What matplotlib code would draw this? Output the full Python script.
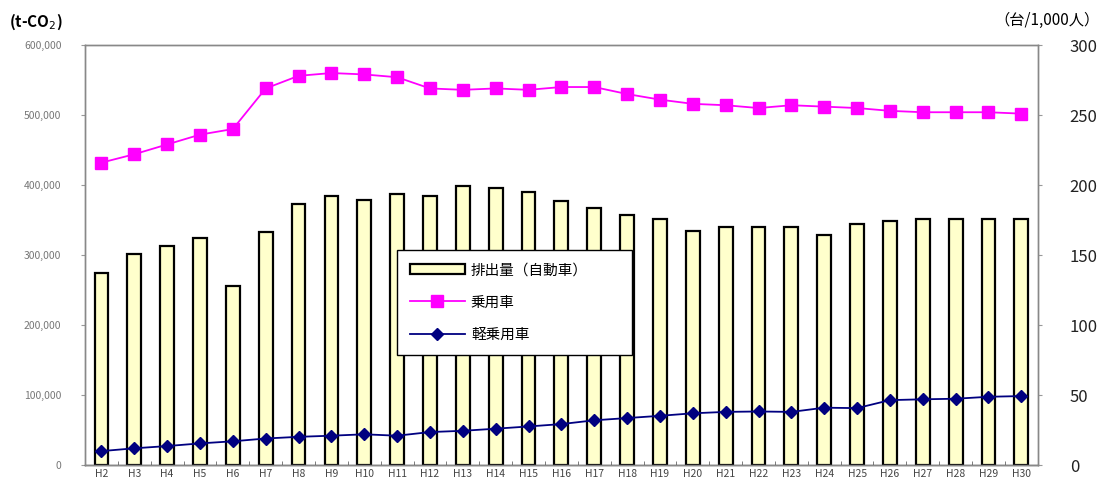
import numpy as np
import matplotlib
matplotlib.use('Agg')
import matplotlib.pyplot as plt
from matplotlib.ticker import FuncFormatter, MultipleLocator

plt.rcParams['font.family'] = ['Noto Sans CJK JP', 'DejaVu Sans']

# 年度（平成）
nendo = ['H2', 'H3', 'H4', 'H5', 'H6', 'H7', 'H8', 'H9', 'H10', 'H11', 'H12', 'H13', 'H14', 'H15',
         'H16', 'H17', 'H18', 'H19', 'H20', 'H21', 'H22', 'H23', 'H24', 'H25', 'H26', 'H27', 'H28',
         'H29', 'H30']

# 排出量（自動車） t-CO2
haishutsu = [275000, 301000, 313000, 325000, 256000, 333000, 373000, 384000, 379000, 387000,
             384000, 399000, 396000, 390000, 377000, 367000, 357000, 351000, 334000, 340000,
             340000, 340000, 329000, 345000, 349000, 351000, 351000, 351000, 351000]

# 保有台数 台/1,000人
jouyousha = [216, 222, 229, 236, 240, 269, 278, 280, 279, 277, 269, 268, 269, 268, 270, 270,
             265, 261, 258, 257, 255, 257, 256, 255, 253, 252, 252, 252, 251]
kei_jouyousha = [10, 12, 13.6, 15.5, 17, 19, 20.2, 21, 22, 21, 23.6, 24.5, 26, 27.6, 29.3, 32,
                 33.6, 35.2, 37, 38, 38.3, 38, 41, 40.7, 46.4, 47, 47.4, 48.8, 49.3]

x = np.arange(len(nendo))

fig = plt.figure(figsize=(11.04, 4.79), dpi=100)
ax = fig.add_axes([0.077, 0.029, 0.863, 0.877])
ax2 = ax.twinx()

bars = ax.bar(x, haishutsu, width=0.42, color='#FFFFCC', edgecolor='black', linewidth=1.6,
              label='排出量（自動車）', zorder=2)
l1, = ax2.plot(x, jouyousha, color='#FF00FF', marker='s', markersize=8, linewidth=1.3,
               label='乗用車')
l2, = ax2.plot(x, kei_jouyousha, color='#000080', marker='D', markersize=6, linewidth=1.3,
               label='軽乗用車')

ax.set_xlim(-0.5, len(nendo) - 0.5)
ax.set_ylim(0, 600000)
ax2.set_ylim(0, 300)
ax.yaxis.set_major_locator(MultipleLocator(100000))
ax2.yaxis.set_major_locator(MultipleLocator(50))
ax.yaxis.set_major_formatter(FuncFormatter(lambda v, p: f'{int(v):,}'))

for a in (ax, ax2):
    for s in a.spines.values():
        s.set_color('#888888')
        s.set_linewidth(1.0)
ax.spines['bottom'].set_color('#333333')

ax.set_xticks(x)
ax.set_xticklabels(nendo, fontsize=7.5, color='#444444')
ax.set_xticks(x[:-1] + 0.5, minor=True)
ax.tick_params(axis='x', which='major', length=0, pad=3)
ax.tick_params(axis='x', which='minor', length=3, direction='in', color='#666666')
ax.tick_params(axis='y', labelsize=7.5, labelcolor='#777777', length=3, color='#999999', pad=14)
ax2.tick_params(axis='y', labelsize=12, labelcolor='#222222', length=3, color='#999999', pad=20)

fig.text(0.008, 0.955, '(t-CO$_2$)', fontsize=11, fontweight='bold', ha='left', va='center')
fig.text(0.996, 0.958, '（台/1,000人）', fontsize=11, ha='right', va='center')

# 凡例は枠の幅を固定して広げる
leg = ax.legend(handles=[bars, l1, l2], loc='upper left',
                bbox_to_anchor=(0.327, 0.274, 0.247, 0.238), mode='expand',
                frameon=True, fancybox=False, edgecolor='black', fontsize=10.5,
                labelspacing=1.25, borderpad=0.9, handlelength=3.8, handletextpad=0.4,
                borderaxespad=0, framealpha=1)
leg.get_frame().set_linewidth(1.0)
leg.set_zorder(5)

fig.savefig('out.png', dpi=100)
